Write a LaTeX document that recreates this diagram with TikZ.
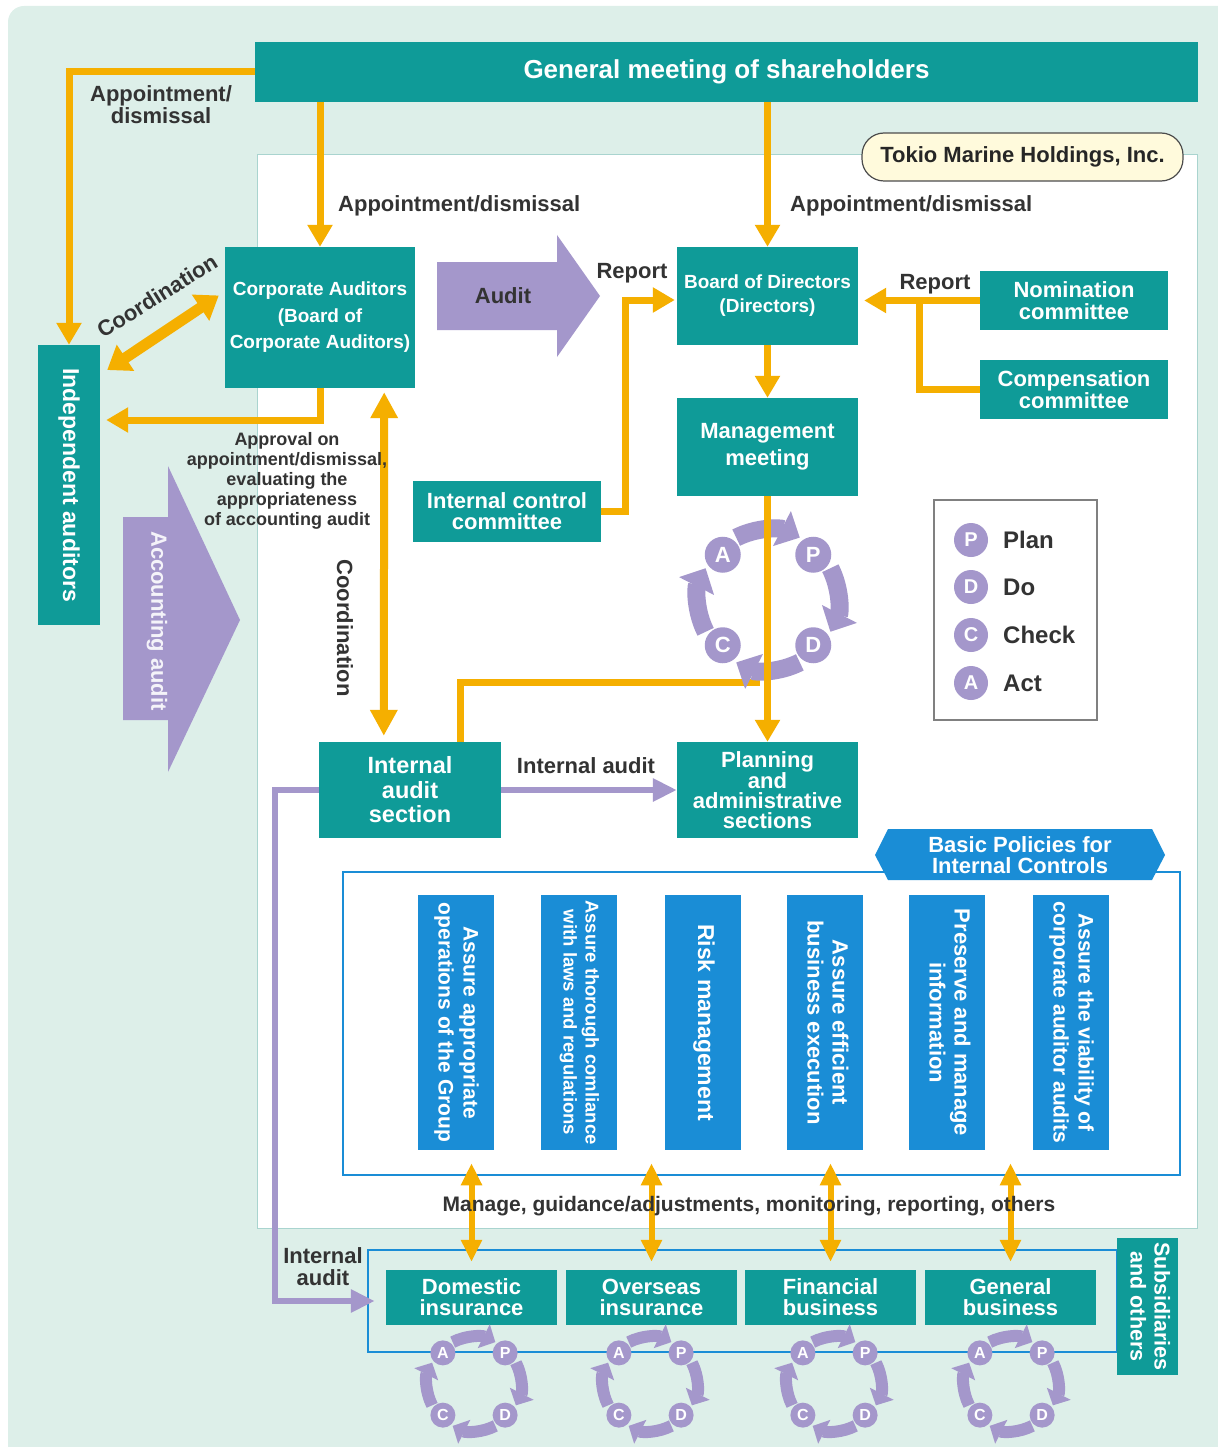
\documentclass[tikz,border=0pt]{standalone}
\usepackage{fontspec}
\setmainfont{Liberation Sans}
\usepackage{graphicx}
\usetikzlibrary{arrows.meta,calc}

\definecolor{teal1}{HTML}{0F9B98}
\definecolor{orng}{HTML}{F5AF00}
\definecolor{purp}{HTML}{A497CB}
\definecolor{blu}{HTML}{1A8DD6}
\definecolor{mint}{HTML}{DDEFE9}
\definecolor{txt}{HTML}{333333}
\definecolor{panelb}{HTML}{A9D4CF}
\definecolor{pill}{HTML}{FFFADC}

\newcommand\fsz[2]{\fontsize{#1}{#2}\selectfont}
\newcommand\rtext[1]{\rotatebox{-90}{\begin{tabular}{@{}c@{}}#1\end{tabular}}}

\newcommand\pdcacyc[7]{%
  \coordinate (#1c) at (#2,#3);
  \foreach \pa/\pb in {117/63,27/-27,-63/-117,-153/-207}{%
    \draw[#7] ($(#1c)+(\pa:#6pt)$) arc[start angle=\pa,end angle=\pb,radius=#6pt];
  }%
  \node[#5] (#1P) at ($(#1c)+(45:#4pt)$) {P};
  \node[#5] (#1D) at ($(#1c)+(-45:#4pt)$) {D};
  \node[#5] (#1C) at ($(#1c)+(-135:#4pt)$) {C};
  \node[#5] (#1A) at ($(#1c)+(135:#4pt)$) {A};
}

\tikzset{
  tbox/.style={fill=teal1,text=white,font=\bfseries\fsz{22}{22},align=center,inner sep=0pt},
  bbox/.style={fill=blu,text=white,font=\bfseries\fsz{21}{25},inner sep=0pt,minimum width=76pt,minimum height=255pt},
  lbl/.style={text=txt,font=\bfseries\fsz{22}{22},align=center,inner sep=0pt},
  oline/.style={draw=orng,line width=7pt},
  oarrow/.style={oline,-{Triangle[width=24pt,length=22pt]}},
  pline/.style={draw=purp,line width=6pt},
  parrow/.style={pline,-{Triangle[width=22pt,length=24pt]}},
  bigcirc/.style={circle,fill=purp,text=white,inner sep=0pt,minimum size=36pt,font=\bfseries\fsz{22}{22}},
  smallcirc/.style={circle,fill=purp,text=white,inner sep=0pt,minimum size=25pt,font=\bfseries\fsz{16}{16}},
  bigarr/.style={draw=purp,line width=18pt,-{Triangle[width=38pt,length=20pt]}},
  smallarr/.style={draw=purp,line width=12pt,-{Triangle[width=26pt,length=13pt]}},
  polarr/.style={draw=orng,line width=6pt,{Triangle[width=20pt,length=22pt]}-{Triangle[width=20pt,length=22pt]}}
}

\begin{document}
\begin{tikzpicture}[x=1pt,y=-1pt]
\useasboundingbox (0,0) rectangle (1217,1447);
% background
\fill[mint,rounded corners=16pt] (8,6) rectangle (1250,1480);
\filldraw[fill=white,draw=panelb,line width=1pt] (257,155) rectangle (1197,1228);

% nodes
\node[tbox,minimum width=943pt,minimum height=60pt,font=\bfseries\fsz{26}{26}] (gm) at (726.5,72) {General meeting of shareholders};
\node[draw=black!70,fill=pill,rounded corners=22pt,line width=1.2pt,minimum width=321pt,minimum height=48pt,lbl,text=black!85] (tmh) at (1022.5,157) {Tokio Marine Holdings, Inc.};
\node[tbox,minimum width=62pt,minimum height=280pt,font=\bfseries\fsz{23}{23}] (ia) at (69,485) {\rotatebox{-90}{Independent auditors}};
\node[tbox,minimum width=190pt,minimum height=141pt,font=\bfseries\fsz{19}{26.5}] (ca) at (320,317.5) {Corporate Auditors\\(Board of\\Corporate Auditors)};
\node[tbox,minimum width=181pt,minimum height=98pt,font=\bfseries\fsz{19}{24}] (bod) at (767.5,296) {Board of Directors\\(Directors)};
\node[tbox,minimum width=188pt,minimum height=59pt] (nom) at (1074,300.5) {Nomination\\committee};
\node[tbox,minimum width=188pt,minimum height=59pt] (comp) at (1074,389.5) {Compensation\\committee};
\node[tbox,minimum width=181pt,minimum height=98pt,font=\bfseries\fsz{22}{27}] (mm) at (767.5,447) {Management\\meeting};
\node[tbox,minimum width=188pt,minimum height=61pt,font=\bfseries\fsz{22}{21}] (icc) at (507,511.5) {Internal control\\committee};
\node[tbox,minimum width=182pt,minimum height=96pt,font=\bfseries\fsz{23.5}{24.5}] (ias) at (410,790) {Internal\\audit\\section};
\node[tbox,minimum width=181pt,minimum height=96pt,font=\bfseries\fsz{22}{20}] (pas) at (767.5,790) {Planning\\and\\administrative\\sections};

% legend
\node[draw=black!50,line width=1.2pt,fill=white,minimum width=163pt,minimum height=220pt,inner sep=0pt] (legend) at (1015.5,610) {};
\node[bigcirc,minimum size=34pt,font=\bfseries\fsz{20}{20}] (lgP) at (971,540) {P};
\node[bigcirc,minimum size=34pt,font=\bfseries\fsz{20}{20}] (lgD) at (971,587) {D};
\node[bigcirc,minimum size=34pt,font=\bfseries\fsz{20}{20}] (lgC) at (971,635) {C};
\node[bigcirc,minimum size=34pt,font=\bfseries\fsz{20}{20}] (lgA) at (971,683) {A};
\node[lbl,anchor=west,font=\bfseries\fsz{24}{24}] (lgPt) at (1003,540) {Plan};
\node[lbl,anchor=west,font=\bfseries\fsz{24}{24}] (lgDt) at (1003,587) {Do};
\node[lbl,anchor=west,font=\bfseries\fsz{24}{24}] (lgCt) at (1003,635) {Check};
\node[lbl,anchor=west,font=\bfseries\fsz{24}{24}] (lgAt) at (1003,683) {Act};

% basic policies
\node[draw=blu,line width=2.5pt,minimum width=837pt,minimum height=303pt,inner sep=0pt] (polframe) at (761.5,1023.5) {};
\fill[blu] (875,855) -- (888,829) -- (1152,829) -- (1165,855) -- (1152,880) -- (888,880) -- cycle;
\node[lbl,text=white,font=\bfseries\fsz{22}{21}] (bpic) at (1020,855) {Basic Policies for\\Internal Controls};
\node[bbox] (b1) at (456,1022.5) {\rtext{Assure appropriate\\operations of the Group}};
\node[bbox,font=\bfseries\fsz{18.5}{22}] (b2) at (579,1022.5) {\rtext{Assure thorough comliance\\with laws and regulations}};
\node[bbox,font=\bfseries\fsz{23}{25}] (b3) at (703,1022.5) {\rtext{Risk management}};
\node[bbox,font=\bfseries\fsz{22}{25}] (b4) at (825,1022.5) {\rtext{Assure efficient\\business execution}};
\node[bbox,font=\bfseries\fsz{22}{25}] (b5) at (947,1022.5) {\rtext{Preserve and manage\\information}};
\node[bbox] (b6) at (1071,1022.5) {\rtext{Assure the viability of\\corporate auditor audits}};

% subsidiaries
\node[draw=blu,line width=2.5pt,minimum width=749pt,minimum height=102pt,inner sep=0pt] (subframe) at (742.5,1301) {};
\node[tbox,minimum width=61pt,minimum height=137pt,font=\bfseries\fsz{21.5}{24}] (subl) at (1147.5,1306.5) {\rtext{Subsidiaries\\and others}};
\node[tbox,minimum width=171pt,minimum height=55pt,font=\bfseries\fsz{22}{21}] (dom) at (471.5,1297.5) {Domestic\\insurance};
\node[tbox,minimum width=171pt,minimum height=55pt,font=\bfseries\fsz{22}{21}] (ovs) at (651.5,1297.5) {Overseas\\insurance};
\node[tbox,minimum width=171pt,minimum height=55pt,font=\bfseries\fsz{22}{21}] (fin) at (830.5,1297.5) {Financial\\business};
\node[tbox,minimum width=171pt,minimum height=55pt,font=\bfseries\fsz{22}{21}] (gen) at (1010.5,1297.5) {General\\business};

% small PDCA cycles
\pdcacyc{sd}{474}{1384}{44}{smallcirc}{47}{smallarr}
\pdcacyc{so}{650}{1384}{44}{smallcirc}{47}{smallarr}
\pdcacyc{sf}{834}{1384}{44}{smallcirc}{47}{smallarr}
\pdcacyc{sg}{1011}{1384}{44}{smallcirc}{47}{smallarr}

% connectors from the general meeting
\draw[oarrow] (gm.west) -| (ia.north);
\draw[oarrow] (gm.south -| ca.north) -- (ca.north);
\draw[oarrow] (gm.south -| bod.north) -- (bod.north);
\node[lbl] (lad0) at (161,105) {Appointment/\\dismissal};
\node[lbl,anchor=west] (lad1) at (338,206) {Appointment/dismissal};
\node[lbl,anchor=west] (lad2) at (790,206) {Appointment/dismissal};

% coordination with independent auditors
\draw[draw=orng,line width=11pt,{Triangle[width=30pt,length=22pt]}-{Triangle[width=30pt,length=22pt]}] ($(ia.east)+(7,-115)$) -- ($(ca.west)+(-6,-22)$);
\node[lbl,rotate=32] (lcoord1) at (157,296) {Coordination};

% approval
\draw[oarrow] (ca.south) |- ($(ia.east)+(6,-65)$);

% coordination vertical
\draw[draw=orng,line width=8pt,{Triangle[width=26pt,length=26pt]}-{Triangle[width=26pt,length=26pt]}] ($(ca.south east)+(-31,4)$) -- ($(ias.north west)+(65,-6)$);
\node[lbl,rotate=-90] (lcoord2) at (345,628) {Coordination};
\node[lbl,font=\bfseries\fsz{18}{20}] (lappr) at (287,481) {Approval on\\appointment/dismissal,\\evaluating the\\appropriateness\\of accounting audit};

% accounting audit arrow
\fill[purp] (123,517) -- (168,517) -- (168,466) -- (240,620) -- (168,772) -- (168,720) -- (123,720) -- cycle;
\node[lbl,rotate=-90,text=white!88!purp] (lacc) at (157,621) {Accounting audit};

% audit arrow
\fill[purp] (437,262) -- (557,262) -- (557,235) -- (600,296) -- (557,357) -- (557,330) -- (437,330) -- cycle;
\node[lbl] (laud) at (503,296) {Audit};
\node[lbl] (lrep1) at (632,273) {Report};
\node[lbl] (lrep2) at (935,284) {Report};

% reports to board
\draw[oarrow] (icc.east) -- ++(24,0) |- ($(bod.west)+(-2,4)$);
\draw[oarrow] (nom.west) -- ($(nom.west -| bod.east)+(6,0)$);
\draw[oline] (comp.west) -| ($(nom.west)+(-60,0)$);
\draw[oarrow] (bod.south) -- (mm.north);

% internal audit section line up
\draw[oline] ($(ias.north)+(50,0)$) |- ($(pas.north)+(-8,-59)$);

% big PDCA
\pdcacyc{bg}{768}{600}{64}{bigcirc}{70}{bigarr}
\draw[oarrow] (mm.south) -- (pas.north);

% internal audit arrows
\draw[parrow] (ias.east) -- (pas.west);
\node[lbl] (lia) at (586,766) {Internal audit};
\draw[parrow] (ias.west) -- ++(-44,0) |- ($(subframe.west)+(8,0)$);
\node[lbl] (lia2) at (323,1267) {Internal\\audit};

% manage arrows
\foreach \bx in {dom,ovs,fin,gen}{
  \draw[polarr] ($(\bx.north |- polframe.south)+(0,-13)$) -- ($(\bx.north)+(0,-8)$);
}
\node[lbl,font=\bfseries\fsz{21}{21}] (lman) at (749,1206) {Manage, guidance/adjustments, monitoring, reporting, others};
\end{tikzpicture}
\end{document}
